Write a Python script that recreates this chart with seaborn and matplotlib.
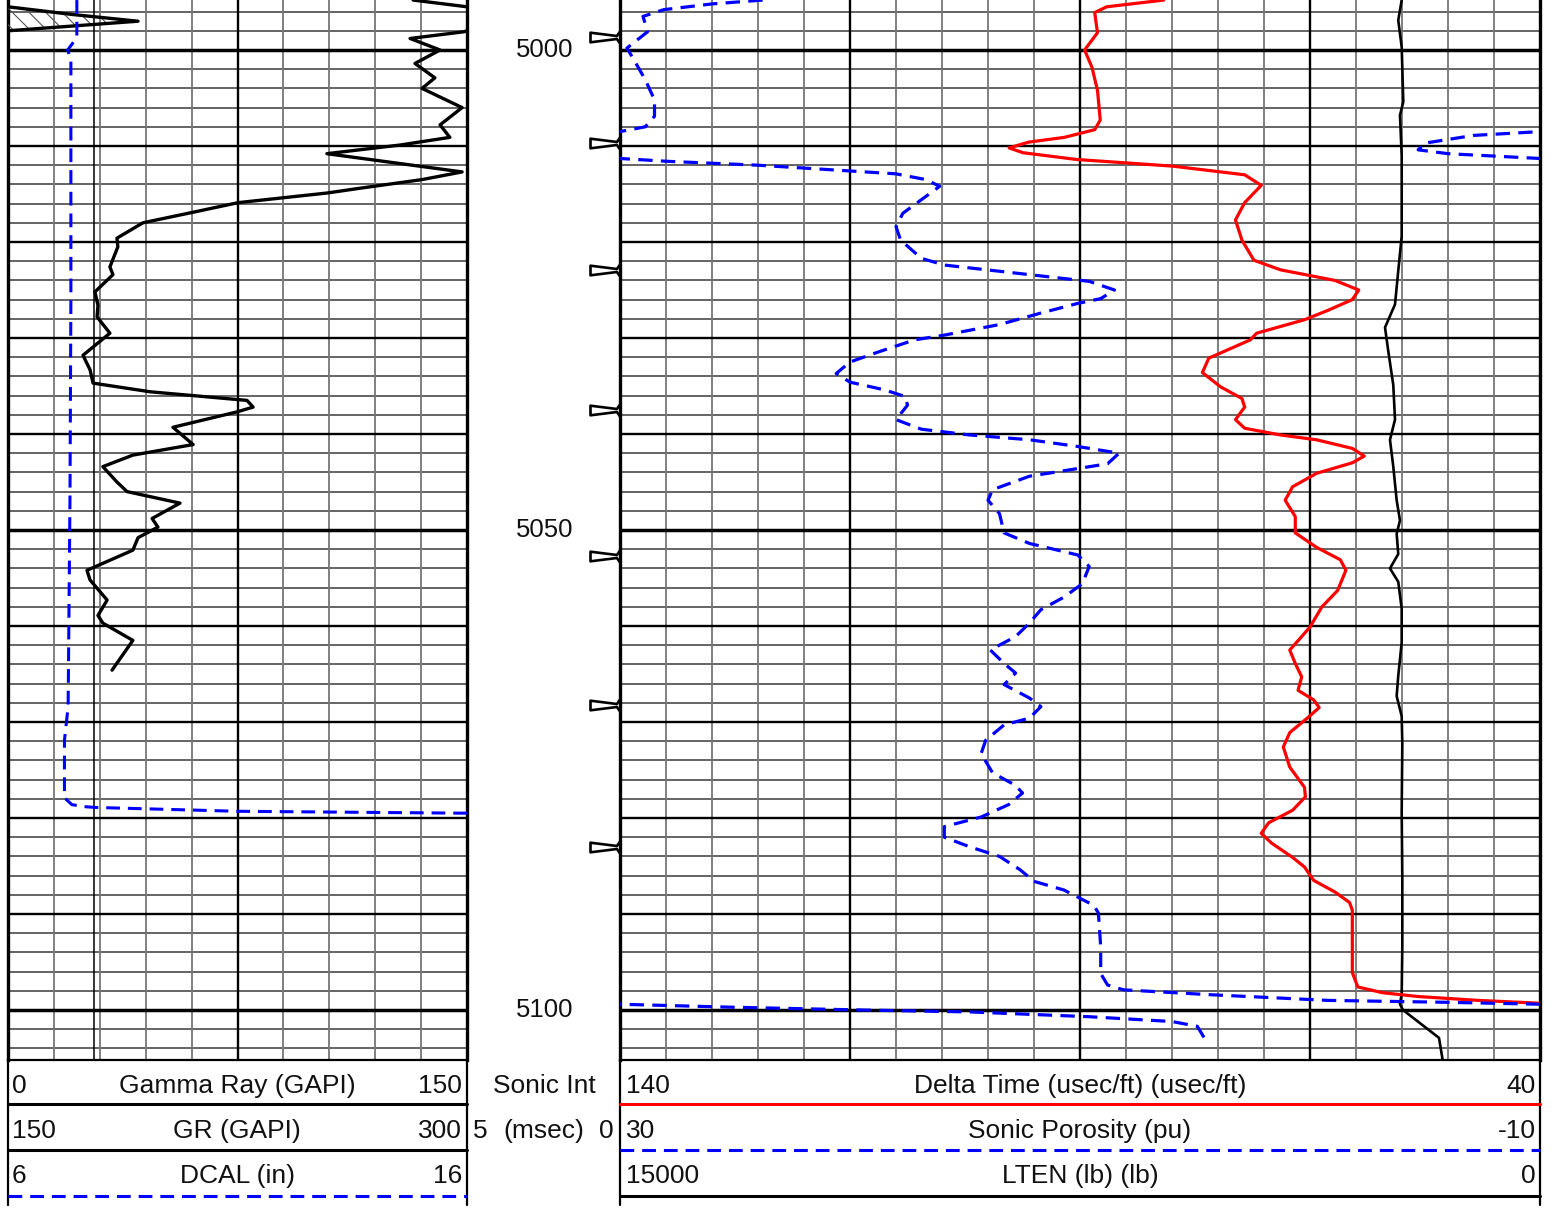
import numpy as np
import pandas as pd
import matplotlib
matplotlib.use("Agg")
import matplotlib.pyplot as plt
import seaborn as sns
from matplotlib.path import Path
from matplotlib.markers import MarkerStyle

# ------------------------------------------------------------------ data
gr_depth = [4994.8, 4995.5, 4996.3, 4997.0, 4997.7, 4998.0, 4998.1, 4998.8, 5000.0, 5001.4,
            5002.9, 5004.0, 5006.0, 5007.8, 5009.1, 5009.9, 5010.8, 5012.7, 5013.5, 5014.4,
            5014.9, 5015.9, 5016.9, 5018.0, 5019.6, 5020.5, 5022.6, 5023.4, 5025.2, 5026.6,
            5027.8, 5029.5, 5031.8, 5033.3, 5034.7, 5035.6, 5036.5, 5037.2, 5037.7, 5039.3,
            5041.1, 5042.2, 5043.4, 5045.0, 5046.0, 5047.2, 5048.8, 5049.7, 5050.8, 5052.1,
            5054.2, 5055.2, 5057.3, 5058.9, 5059.7, 5061.5, 5064.6]
gr_vals = [132.4, 150.0, 171.0, 192.5, 162.7, 150.0, 149.0, 131.4, 141.2, 133.0,
           139.5, 135.3, 148.4, 141.2, 144.4, 128.1, 104.2, 148.4, 135.3, 115.0,
           104.2, 75.2, 60.5, 44.1, 35.6, 35.9, 33.3, 34.3, 28.4, 29.4,
           29.1, 33.3, 24.5, 26.8, 27.8, 46.4, 78.1, 80.1, 74.8, 53.9,
           60.5, 40.8, 31.0, 35.6, 38.9, 56.2, 47.1, 49.0, 42.5, 40.8,
           25.8, 26.8, 32.4, 29.4, 31.0, 40.8, 34.0]

dcal_depth = [4994.8, 4998.7, 5000.0, 5001.0, 5026.0, 5046.9, 5068.4, 5071.9, 5077.9,
              5078.6, 5078.8, 5078.9, 5079.3, 5079.5, 5079.6]
dcal_vals = [7.50, 7.50, 7.30, 7.37, 7.37, 7.35, 7.31, 7.23, 7.23,
             7.39, 7.61, 7.90, 11.0, 16.0, 16.5]
bit_size = 7.875

dt_depth = [4994.8, 4995.5, 4996.1, 4998.2, 5000.0, 5001.8, 5004.2, 5007.3, 5008.3, 5009.1,
            5009.6, 5010.2, 5010.7, 5011.4, 5012.1, 5013.0, 5014.1, 5015.9, 5017.7, 5019.8,
            5021.9, 5022.9, 5024.0, 5025.0, 5026.0, 5027.1, 5028.1, 5029.5, 5030.2, 5032.1,
            5033.6, 5035.1, 5036.3, 5037.2, 5038.5, 5039.4, 5040.1, 5040.6, 5041.5, 5042.3,
            5043.0, 5044.1, 5045.5, 5046.9, 5048.6, 5050.3, 5051.8, 5053.1, 5054.2, 5056.3,
            5058.0, 5060.1, 5061.1, 5062.5, 5063.9, 5065.3, 5066.7, 5067.7, 5068.5, 5069.6,
            5071.1, 5072.6, 5074.7, 5076.8, 5077.8, 5079.2, 5080.5, 5081.6, 5082.6, 5084.1,
            5085.1, 5086.5, 5087.7, 5088.8, 5089.6, 5096.1, 5097.6, 5098.2, 5098.6, 5099.0,
            5099.3, 5099.5]
dt_vals = [80.9, 87.1, 88.4, 88.1, 89.5, 88.7, 88.1, 87.8, 88.4, 91.7,
           95.6, 97.7, 96.2, 90.4, 79.9, 72.1, 70.3, 72.1, 73.1, 72.4,
           71.1, 68.2, 62.3, 59.7, 60.4, 63.0, 65.6, 70.8, 71.5, 76.0,
           76.7, 74.7, 72.4, 72.1, 73.1, 72.1, 68.2, 64.3, 60.4, 59.1,
           60.4, 64.3, 66.9, 67.7, 66.6, 66.6, 64.3, 61.7, 61.1, 62.0,
           63.7, 65.0, 65.9, 67.2, 66.6, 65.9, 66.3, 64.6, 64.0, 65.3,
           67.2, 67.9, 67.2, 65.6, 65.5, 66.9, 69.5, 70.3, 69.2, 66.9,
           65.6, 64.6, 62.3, 60.7, 60.4, 60.4, 59.8, 57.1, 53.2, 46.7,
           39.9, 38.0]

phi_depth = [4994.8, 4995.2, 4995.8, 4996.5, 4998.1, 4999.8, 5001.0, 5003.1, 5005.2, 5006.9,
             5008.0, 5008.5, 5008.9, 5009.7, 5010.4, 5010.8, 5011.3, 5011.6, 5012.0, 5012.6,
             5012.9, 5013.5, 5014.2, 5015.6, 5017.0, 5018.4, 5019.8, 5021.7, 5022.4, 5023.4,
             5024.1, 5025.0, 5025.9, 5026.4, 5027.4, 5028.6, 5029.7, 5030.2, 5031.4, 5032.5,
             5033.7, 5034.6, 5035.4, 5036.1, 5037.0, 5038.5, 5039.5, 5040.1, 5040.6, 5041.3,
             5042.0, 5043.1, 5043.6, 5044.4, 5045.8, 5046.9, 5048.3, 5050.3, 5051.4, 5052.6,
             5053.8, 5055.6, 5057.0, 5058.3, 5059.7, 5061.1, 5062.5, 5063.9, 5064.9, 5066.1,
             5067.5, 5068.4, 5069.6, 5070.3, 5071.9, 5073.3, 5075.3, 5076.6, 5077.4, 5078.6,
             5079.9, 5080.9, 5082.0, 5083.0, 5084.0, 5085.4, 5086.6, 5087.5, 5089.1, 5089.9,
             5093.4, 5096.2, 5097.4, 5097.9, 5098.4, 5099.0, 5099.2, 5099.4, 5099.7, 5100.0,
             5100.2, 5100.7, 5101.2, 5101.7, 5102.9]
phi_vals = [23.8, 26.0, 28.1, 29.0, 28.8, 29.7, 29.4, 28.9, 28.5, 28.5,
            28.9, 30.0, 32.9, 35.0, 35.3, 34.0, 30.0, 27.9, 24.0, 20.0,
            18.0, 16.7, 16.1, 16.9, 17.7, 18.0, 17.8, 16.9, 15.9, 12.2,
            9.6, 8.5, 9.1, 10.1, 11.7, 13.5, 15.9, 17.2, 18.7, 20.0,
            20.6, 20.0, 18.5, 17.6, 17.5, 18.0, 16.9, 14.8, 12.2, 10.1,
            8.3, 8.8, 10.1, 12.2, 13.8, 14.0, 13.5, 13.3, 12.2, 10.1,
            9.6, 9.9, 10.7, 11.7, 12.2, 12.8, 13.9, 13.3, 12.8, 13.3,
            12.2, 11.7, 12.2, 13.3, 14.1, 14.3, 13.8, 12.8, 12.5, 13.1,
            14.3, 15.9, 15.9, 14.8, 13.5, 12.6, 12.0, 10.7, 9.4, 9.2,
            9.1, 9.1, 8.8, 8.1, 4.4, -0.8, -6.0, -10.0, -14.7, -20.5,
            -25.2, -30.4, -34.0, -35.1, -35.4]

lten_depth = [4994.8, 4996.9, 4999.7, 5005.4, 5006.8, 5011.0, 5019.4, 5023.0, 5026.5, 5028.9,
              5031.4, 5034.9, 5038.5, 5040.6, 5043.4, 5046.9, 5049.0, 5050.4, 5052.5, 5054.0,
              5055.4, 5058.2, 5061.7, 5065.2, 5067.3, 5069.4, 5072.3, 5079.3, 5086.4, 5093.4,
              5098.3, 5099.4, 5100.0, 5102.9, 5105.4]
lten_vals = [2255, 2311, 2255, 2229, 2283, 2255, 2255, 2311, 2364, 2527,
             2473, 2392, 2364, 2446, 2392, 2337, 2283, 2337, 2311, 2446,
             2311, 2255, 2255, 2311, 2337, 2255, 2245, 2255, 2245, 2245,
             2255, 2283, 2234, 1647, 1582]

sonic_int_ticks = [4998.6, 5009.7, 5022.9, 5037.5, 5052.7, 5068.2, 5083.0]
depth_labels = [5000, 5050, 5100]

# ------------------------------------------------------------------ style
sns.set_style("white")
plt.rcParams["font.family"] = ["Liberation Sans", "DejaVu Sans"]
plt.rcParams["hatch.linewidth"] = 0.8
plt.rcParams["hatch.color"] = "#555555"

W, H = 1554, 1210
PX_FT = 9.6
TOP_D = 5000 - 50 / PX_FT
BOT_D = 5100 + 50 / PX_FT
FS = 18.5
FS_H = 19
BLUE, RED = "#0000ff", "#ff0000"
DASH = (0, (4.5, 2.6))

fig = plt.figure(figsize=(W / 100, H / 100), dpi=100)


def rect(x0, x1, y0=0, y1=1060):
    return [x0 / W, 1 - y1 / H, (x1 - x0) / W, (y1 - y0) / H]


def grid_track(r, xlim, xs_minor, xs_major):
    ax = fig.add_axes(r)
    ax.set_xlim(*xlim)
    ax.set_ylim(BOT_D, TOP_D)
    ax.set_xticks([])
    ax.set_yticks([])
    for d in np.arange(4996, 5106, 2):
        if d % 50 == 0:
            ax.axhline(d, color="black", lw=2.5, zorder=0.5)
        elif d % 10 == 0:
            ax.axhline(d, color="black", lw=1.7, zorder=0.4)
        else:
            ax.axhline(d, color="#3a3a3a", lw=1.1, zorder=0.3)
    for x in xs_minor:
        ax.axvline(x, color="#767676", lw=1.3, zorder=0.3)
    for x in xs_major:
        ax.axvline(x, color="black", lw=1.7, zorder=0.4)
    for s in ["left", "right"]:
        ax.spines[s].set_color("black")
        ax.spines[s].set_linewidth(2.4)
    ax.spines["bottom"].set_color("black")
    ax.spines["bottom"].set_linewidth(1.6)
    ax.spines["top"].set_visible(False)
    return ax


def curve(base, xlim, depth, vals, dashed=False, **kw):
    a = base.twiny()
    df = pd.DataFrame({"depth": depth, "value": vals})
    sns.lineplot(data=df, x="value", y="depth", ax=a, sort=False, estimator=None,
                 orient="y", legend=False, **kw)
    ln = a.lines[-1]
    ln.set_solid_joinstyle("round")
    ln.set_solid_capstyle("round")
    if dashed:
        ln.set_linestyle(DASH)
    a.set_xlim(*xlim)
    a.set_axis_off()
    return a


# ------------------------------------------------------------------ left track
ax_l = grid_track(rect(8, 467), (0, 150),
                  [v for v in np.arange(15, 150, 15) if v != 75], [75])
a_grb = curve(ax_l, (150, 300), gr_depth, gr_vals, color="black", lw=2.4)
grv = np.array(gr_vals)
a_grb.fill_betweenx(gr_depth, 150, grv, where=grv >= 150, interpolate=True,
                    facecolor="none", hatch="\\\\", edgecolor="#555555", linewidth=0)
a_gr = curve(ax_l, (0, 150), gr_depth, gr_vals, color="black", lw=2.4)
a_dc = curve(ax_l, (6, 16), dcal_depth, dcal_vals, dashed=True, color=BLUE, lw=2.2)
a_dc.axvline(bit_size, color="black", lw=1.1, zorder=0.2)

# ------------------------------------------------------------------ depth track
ax_d = fig.add_axes(rect(467, 620))
ax_d.set_xlim(0, 1)
ax_d.set_ylim(BOT_D, TOP_D)
ax_d.set_axis_off()
for d in depth_labels:
    ax_d.text(0.51, d, f"{d}", ha="center", va="center", fontsize=FS, color="#111111")

flag = Path([(-1.0, 0.16), (-0.12, 0.05), (0.0, 0.22), (0.0, -0.22), (-0.12, -0.05),
             (-1.0, -0.16), (-1.0, 0.16)],
            [Path.MOVETO, Path.LINETO, Path.LINETO, Path.LINETO, Path.LINETO,
             Path.LINETO, Path.CLOSEPOLY])
sns.scatterplot(x=np.ones(len(sonic_int_ticks)), y=sonic_int_ticks, ax=ax_d,
                marker=MarkerStyle(flag), s=1866, facecolor="white",
                edgecolor="black", linewidth=1.9, clip_on=False, legend=False)
ax_d.set_xlim(0, 1)
ax_d.set_ylim(BOT_D, TOP_D)
ax_d.set_axis_off()

# ------------------------------------------------------------------ right track
dt_ticks = np.arange(135, 40, -5)
ax_r = grid_track(rect(620, 1540), (140, 40),
                  [v for v in dt_ticks if v not in (115, 90, 65)], [115, 90, 65])
curve(ax_r, (15000, 0), lten_depth, lten_vals, color="black", lw=1.9)
curve(ax_r, (140, 40), dt_depth, dt_vals, color=RED, lw=2.3)
for lim in [(30, -10), (70, 30), (-10, -50)]:
    curve(ax_r, lim, phi_depth, phi_vals, dashed=True, color=BLUE, lw=2.3)

ax_l.set_ylim(BOT_D, TOP_D)
ax_r.set_ylim(BOT_D, TOP_D)

# ------------------------------------------------------------------ header
ax_h = fig.add_axes([0, 0, 1, 1])
ax_h.set_xlim(0, W)
ax_h.set_ylim(H, 0)
ax_h.set_axis_off()
ax_h.patch.set_alpha(0)

for x in [8, 467, 620, 1540]:
    ax_h.plot([x, x], [1060, 1205], color="black", lw=1.6)

rows = [1093, 1138, 1183]
tk = dict(fontsize=FS_H, color="#111111", va="baseline")
left_rows = [("0", "Gamma Ray (GAPI)", "150"), ("150", "GR (GAPI)", "300"),
             ("6", "DCAL (in)", "16")]
right_rows = [("140", "Delta Time (usec/ft) (usec/ft)", "40"),
              ("30", "Sonic Porosity (pu)", "-10"),
              ("15000", "LTEN (lb) (lb)", "0")]
for y, (a, b, c) in zip(rows, left_rows):
    ax_h.text(12, y, a, ha="left", **tk)
    ax_h.text(237, y, b, ha="center", **tk)
    ax_h.text(462, y, c, ha="right", **tk)
for y, (a, b, c) in zip(rows, right_rows):
    ax_h.text(626, y, a, ha="left", **tk)
    ax_h.text(1080, y, b, ha="center", **tk)
    ax_h.text(1536, y, c, ha="right", **tk)
ax_h.text(544, rows[0], "Sonic Int", ha="center", **tk)
ax_h.text(473, rows[1], "5", ha="left", **tk)
ax_h.text(544, rows[1], "(msec)", ha="center", **tk)
ax_h.text(614, rows[1], "0", ha="right", **tk)

ax_h.plot([8, 467], [1104, 1104], color="black", lw=2.2)
ax_h.plot([8, 467], [1150, 1150], color="black", lw=2.2)
ax_h.plot([8, 467], [1196, 1196], color=BLUE, lw=2.2, linestyle=DASH)
ax_h.plot([620, 1540], [1104, 1104], color=RED, lw=2.2)
ax_h.plot([620, 1540], [1150, 1150], color=BLUE, lw=2.2, linestyle=DASH)
ax_h.plot([620, 1540], [1196, 1196], color="black", lw=2.2)

fig.savefig("out.png", dpi=100, facecolor="white")
